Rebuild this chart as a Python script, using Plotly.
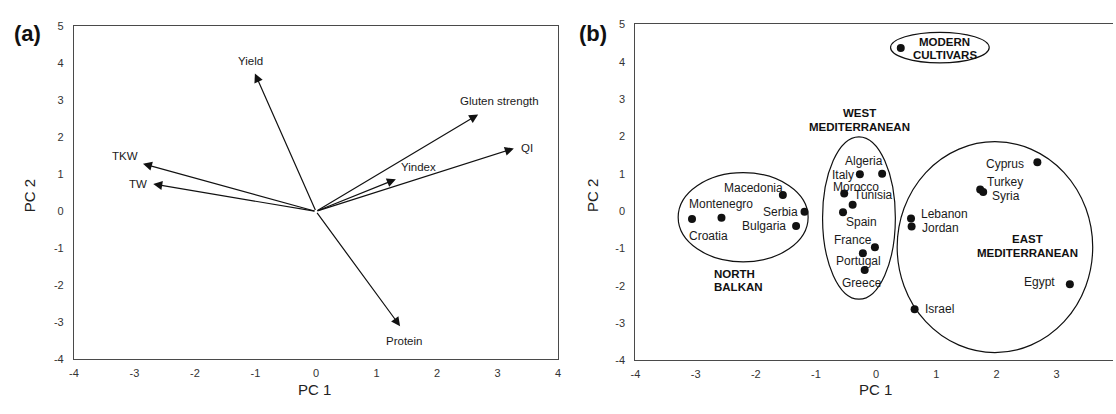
import plotly.graph_objects as go

# ---------------- data ----------------
# Panel (a): loading vectors (arrow tips, from origin)
VAR_NAMES = ["Yield", "Gluten strength", "QI", "Yindex", "TKW", "TW", "Protein"]
VAR_PC1 = [-1.01, 2.68, 3.27, 1.32, -2.86, -2.69, 1.39]
VAR_PC2 = [3.73, 2.62, 1.70, 0.87, 1.29, 0.74, -3.10]

# Panel (b): scores of regions
REG_NAMES = ["Modern cultivars", "Croatia", "Montenegro", "Macedonia", "Serbia", "Bulgaria",
             "Italy", "Algeria", "Morocco", "Tunisia", "Spain", "France", "Portugal", "Greece",
             "Cyprus", "Turkey", "Syria", "Lebanon", "Jordan", "Egypt", "Israel"]
REG_PC1 = [0.41, -3.06, -2.57, -1.55, -1.19, -1.33,
           -0.27, 0.10, -0.53, -0.39, -0.55, -0.02, -0.22, -0.19,
           2.68, 1.73, 1.78, 0.58, 0.59, 3.22, 0.64]
REG_PC2 = [4.37, -0.21, -0.18, 0.43, -0.02, -0.40,
           0.99, 1.00, 0.47, 0.17, -0.03, -0.97, -1.13, -1.58,
           1.31, 0.58, 0.51, -0.20, -0.41, -1.96, -2.63]
REG_LABELS = ["", "Croatia", "Montenegro", "Macedonia", "Serbia", "Bulgaria",
              "Italy", "Algeria", "Morocco", "Tunisia", "Spain", "France", "Portugal", "Greece",
              "Cyprus", "Turkey", "Syria", "Lebanon", "Jordan", "Egypt", "Israel"]

X_TICKS = [-4, -3, -2, -1, 0, 1, 2, 3, 4]
X_TICK_LABELS = ["-4", "-3", "-2", "-1", "0", "1", "2", "3", "4"]
Y_TICKS = [-4, -3, -2, -1, 0, 1, 2, 3, 4, 5]
Y_TICK_LABELS = ["-4", "-3", "-2", "-1", "0", "1", "2", "3", "4", "5"]

# ---------------- styling / layout ----------------
W, H = 1116, 414
FONT = "Liberation Sans, Arial, Helvetica, sans-serif"
TXT = "#1a1a1a"

# label pixel offsets (dx right, dy down) relative to the mark
VAR_LABEL_OFF = {"Yield": (-4, -12), "Gluten strength": (21, -13), "QI": (13, -1),
                 "Yindex": (23, -12), "TKW": (-18, -8), "TW": (-15, 0), "Protein": (4, 15)}
REG_LABEL_OFF = {"Croatia": (16, 17), "Montenegro": (0, -14), "Macedonia": (-29, -7),
                 "Serbia": (-24, 0), "Bulgaria": (-32, 0), "Italy": (-17, 1),
                 "Algeria": (-18, -13), "Morocco": (12, -7), "Tunisia": (21, -10),
                 "Spain": (18, 10), "France": (-22, -7), "Portugal": (-4, 8),
                 "Greece": (-3, 13), "Cyprus": (-32, 2), "Turkey": (25, -7),
                 "Syria": (23, 4), "Lebanon": (33, -5), "Jordan": (29, 2),
                 "Egypt": (-30, -2), "Israel": (25, 0)}

fig = go.Figure()

fig.add_trace(go.Scatter(x=REG_PC1, y=REG_PC2, mode="markers", xaxis="x2", yaxis="y2",
                         marker=dict(size=8, color="#111111"), showlegend=False,
                         hoverinfo="text", text=REG_NAMES))

annotations = []
# arrows panel (a)
for name, px, py in zip(VAR_NAMES, VAR_PC1, VAR_PC2):
    annotations.append(dict(x=px, y=py, ax=0, ay=0, xref="x", yref="y", axref="x", ayref="y",
                            text="", showarrow=True, arrowhead=2, arrowsize=1.5,
                            arrowwidth=1.2, arrowcolor="#111111", standoff=0, startstandoff=0))
    dx, dy = VAR_LABEL_OFF[name]
    annotations.append(dict(x=px, y=py, xref="x", yref="y", text=name, showarrow=False,
                            xshift=dx, yshift=-dy, font=dict(family=FONT, size=11.5, color=TXT)))

# region labels panel (b)
for lab, px, py in zip(REG_LABELS, REG_PC1, REG_PC2):
    if not lab:
        continue
    dx, dy = REG_LABEL_OFF[lab]
    annotations.append(dict(x=px, y=py, xref="x2", yref="y2", text=lab, showarrow=False,
                            xshift=dx, yshift=-dy, font=dict(family=FONT, size=12, color=TXT)))

# group labels (one annotation per line for tight line spacing)
GROUP_FONT = dict(family=FONT, size=11.5, color="#111111")
for txt, gx, gy, anchor in [("MODERN", 1.14, 4.53, "center"), ("CULTIVARS", 1.14, 4.18, "center"),
                            ("WEST", -0.27, 2.62, "center"), ("MEDITERRANEAN", -0.27, 2.24, "center"),
                            ("EAST", 2.51, -0.75, "center"), ("MEDITERRANEAN", 2.51, -1.12, "center"),
                            ("NORTH", -2.72, -1.68, "left"), ("BALKAN", -2.72, -2.02, "left")]:
    annotations.append(dict(x=gx, y=gy, xref="x2", yref="y2", text=f"<b>{txt}</b>",
                            showarrow=False, xanchor=anchor, yanchor="middle", font=GROUP_FONT))

# axis titles and panel letters
for txt, xp, yp, ang, size, bold in [("PC 1", 311.5, 395, 0, 15, False),
                                     ("PC 1", 877, 395, 0, 15, False),
                                     ("PC 2", 25, 195, -90, 15, False),
                                     ("PC 2", 592, 195, -90, 15, False),
                                     ("(a)", 23, 28, 0, 22, True),
                                     ("(b)", 592, 28, 0, 22, True)]:
    annotations.append(dict(x=xp / W, y=1 - yp / H, xref="paper", yref="paper",
                            text=f"<b>{txt}</b>" if bold else txt, showarrow=False,
                            textangle=ang, xanchor="center", yanchor="middle",
                            font=dict(family=FONT, size=size, color="#111111" if bold else "#222222")))

# ellipses around groups (panel b)
ELLIPSES = [(0.24, 1.88, 3.97, 4.79), (-3.29, -1.13, -1.36, 1.03),
            (-0.89, 0.32, -2.36, 1.99), (0.35, 3.60, -3.79, 1.86)]
shapes = [dict(type="circle", xref="x2", yref="y2", x0=a, x1=b, y0=c, y1=d,
               line=dict(color="#111111", width=1.2)) for a, b, c, d in ELLIPSES]

axis_common = dict(showgrid=False, zeroline=False, showline=True, linecolor="#4a4a4a",
                   linewidth=1.2, ticks="", tickfont=dict(family=FONT, size=11, color="#333333"),
                   tickmode="array")

fig.update_layout(
    width=W, height=H, margin=dict(l=0, r=0, t=0, b=0),
    paper_bgcolor="white", plot_bgcolor="white", showlegend=False,
    xaxis=dict(domain=[69.5 / W, 557 / W], range=[-4, 4], anchor="y", mirror=True,
               tickvals=X_TICKS, ticktext=X_TICK_LABELS, ticklabelstandoff=3, **axis_common),
    yaxis=dict(domain=[1 - 364 / H, 1 - 21 / H], range=[-4, 5], anchor="x", mirror=True,
               tickvals=Y_TICKS, ticktext=Y_TICK_LABELS, ticklabelstandoff=7, **axis_common),
    xaxis2=dict(domain=[635 / W, 1.0], range=[-4, -4 + (W - 635) / 60.6], anchor="y2", mirror=True,
                tickvals=X_TICKS, ticktext=X_TICK_LABELS, ticklabelstandoff=3, **axis_common),
    yaxis2=dict(domain=[1 - 365 / H, 1 - 19 / H], range=[-4, 5], anchor="x2", mirror=False,
                tickvals=Y_TICKS, ticktext=Y_TICK_LABELS, ticklabelstandoff=7, **axis_common),
    annotations=annotations, shapes=shapes,
)

fig.write_html("out.html", config={"displayModeBar": False},
               post_script="document.body.style.margin='0';document.body.style.overflow='hidden';")
